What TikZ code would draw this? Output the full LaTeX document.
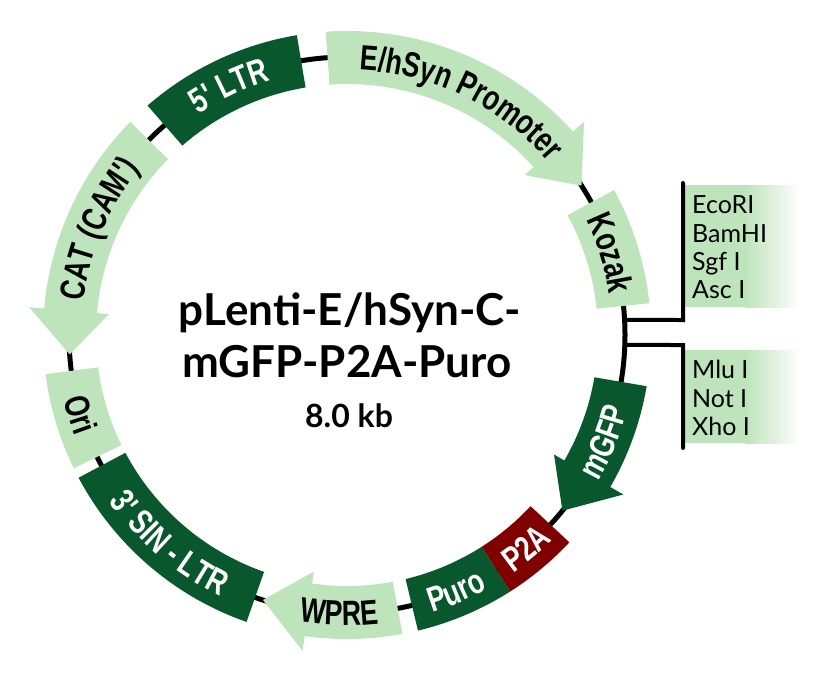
\documentclass[tikz,border=0pt]{standalone}
\usepackage{fontspec}
\setmainfont{Lato}
\newfontfamily\lblfont{Liberation Sans}[FakeStretch=0.76]
\usetikzlibrary{decorations.text}
\definecolor{lgreen}{RGB}{190,228,187}
\definecolor{dgreen}{RGB}{9,87,45}
\definecolor{pred}{RGB}{128,0,0}
% box feature: start angle, end angle, colour
\newcommand\featbox[3]{\fill[#3] (#1:251) -- (#1:304) arc[start angle=#1,end angle=#2,radius=304] -- (#2:251) arc[start angle=#2,end angle=#1,radius=251] -- cycle;}
% arrow feature: start angle, arrowhead base angle, tip angle, colour
\newcommand\featarrow[4]{\fill[#4] (#1:251) -- (#1:304) arc[start angle=#1,end angle=#2,radius=304] -- (#2:319) -- (#3:278) -- (#2:239) -- (#2:251) arc[start angle=#2,end angle=#1,radius=251] -- cycle;}
% clockwise label (tops outward): a1 > a2
\newcommand\cwlabel[4]{\path[decorate,decoration={text along path,text={|\lblfont\bfseries\fontsize{35}{35}\selectfont|#3},text align=center,text color=#4}] (#1:265.5) arc[start angle=#1,end angle=#2,radius=265.5];}
% counterclockwise label (tops inward): a1 < a2
\newcommand\ccwlabel[4]{\path[decorate,decoration={text along path,text={|\lblfont\bfseries\fontsize{35}{35}\selectfont|#3},text align=center,text color=#4}] (#1:290.5) arc[start angle=#1,end angle=#2,radius=290.5];}
\begin{document}
\begin{tikzpicture}[x=1pt,y=1pt,
  sitetext/.style={anchor=base west,inner sep=0pt,font=\fontsize{25}{25}\selectfont},
  titletext/.style={anchor=base,inner sep=0pt,font=\bfseries\fontsize{44}{44}\selectfont},
  siteline/.style={line width=4pt,line cap=round}]
\useasboundingbox (0,-682) rectangle (840,0);
\fill[white] (0,-682) rectangle (840,0);
\coordinate (C) at (347,-335);
\begin{scope}[shift={(C)}]
  \draw[line width=5pt] (0,0) circle[radius=278];
  \coordinate (ring1) at (3.1:278);
  \coordinate (ring2) at (-2.06:278);
  % features
  \featarrow{94}{42}{32.5}{lgreen}
  \featbox{99.5}{131}{dgreen}
  \featarrow{135.5}{175}{184}{lgreen}
  \featbox{187.4}{206}{lgreen}
  \featbox{208}{250.7}{dgreen}
  \featarrow{280.5}{262}{252.4}{lgreen}
  \featbox{283.5}{302.5}{dgreen}
  \featbox{302.5}{317}{pred}
  \featarrow{350.3}{330}{320.8}{dgreen}
  \featbox{6}{28.5}{lgreen}
  % labels
  \cwlabel{94}{34}{E/hSyn Promoter}{black}
  \cwlabel{131}{99.5}{5' LTR}{white}
  \cwlabel{175}{139}{CAT (CAM')}{black}
  \cwlabel{28.5}{6}{Kozak}{black}
  \ccwlabel{187.4}{206}{Ori}{black}
  \ccwlabel{209}{250}{3' SIN - LTR}{white}
  \ccwlabel{255}{282}{WPRE}{black}
  \ccwlabel{284}{302}{Puro}{white}
  \ccwlabel{303}{317}{P2A}{white}
  \ccwlabel{325}{350}{mGFP}{white}
\end{scope}
% restriction site boxes
\fill[lgreen] (685,-185) rectangle (745,-307);
\shade[left color=lgreen,right color=white] (745,-185) rectangle (800,-307);
\fill[lgreen] (685,-350) rectangle (745,-443);
\shade[left color=lgreen,right color=white] (745,-350) rectangle (800,-443);
\coordinate (k1) at (683,-320);
\coordinate (k1top) at (683,-183);
\coordinate (k2) at (683,-345);
\coordinate (k2bot) at (683,-448);
\draw[siteline] (ring1) -- (k1) -- (k1top);
\draw[siteline] (ring2) -- (k2) -- (k2bot);
\node[sitetext] (s1) at (692,-213) {EcoRI};
\node[sitetext] (s2) at (692,-242) {BamHI};
\node[sitetext] (s3) at (692,-270) {Sgf I};
\node[sitetext] (s4) at (692,-298) {Asc I};
\node[sitetext] (s5) at (692,-378) {Mlu I};
\node[sitetext] (s6) at (692,-407) {Not I};
\node[sitetext] (s7) at (692,-435) {Xho I};
% title
\node[titletext] (t1) at (350,-325) {pLenti-E/hSyn-C-};
\node[titletext] (t2) at (347,-377) {mGFP-P2A-Puro};
\node[titletext,font=\bfseries\fontsize{32}{32}\selectfont] (t3) at (349,-427) {8.0 kb};
\end{tikzpicture}
\end{document}
